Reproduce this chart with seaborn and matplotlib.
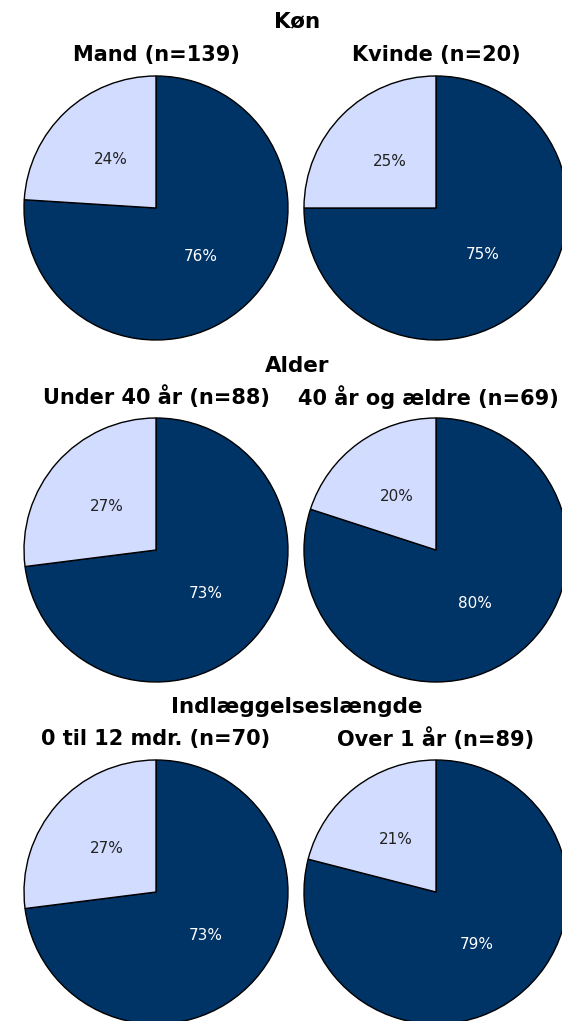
import matplotlib.pyplot as plt
import seaborn as sns

groups = ["Køn", "Alder", "Indlæggelseslængde"]
subtitles = [
    ["Mand (n=139)", "Kvinde (n=20)"],
    ["Under 40 år (n=88)", "40 år og ældre (n=69)"],
    ["0 til 12 mdr. (n=70)", "Over 1 år (n=89)"],
]
dark_pct = [[76, 75], [73, 80], [73, 79]]
light_pct = [[24, 25], [27, 20], [27, 21]]

dark = "#003366"
light = "#D2DCFF"

sns.set_theme(style="white")
plt.rcParams["font.family"] = ["DejaVu Sans"]

W, H = 562, 1021
fig = plt.figure(figsize=(W / 100, H / 100), dpi=100)
fig.patch.set_facecolor("white")

r = 132
pad = 1.02
xs = [156, 436]
ys = [208, 550, 892]
title_y = [21, 366, 707]
sub_y = [55, 397, 739]

for i, g in enumerate(groups):
    fig.text(297 / W, 1 - title_y[i] / H, g, ha="center", va="center",
             fontsize=15.5, fontweight="bold", color="black")
    for j in range(2):
        cx, cy = xs[j], ys[i]
        half = r * pad
        ax = fig.add_axes([(cx - half) / W, 1 - (cy + half) / H, 2 * half / W, 2 * half / H])
        wedges, texts, autotexts = ax.pie(
            [dark_pct[i][j], light_pct[i][j]],
            colors=[dark, light],
            startangle=90,
            counterclock=False,
            autopct="%d%%",
            pctdistance=0.5,
            wedgeprops=dict(edgecolor="black", linewidth=1),
            textprops=dict(fontsize=11),
        )
        autotexts[0].set_color("white")
        autotexts[1].set_color("#222222")
        ax.set_xlim(-pad, pad)
        ax.set_ylim(-pad, pad)
        ax.set_aspect("equal")
        ax.axis("off")
        # keep the long right-hand subtitle inside the figure
        t = fig.text(cx / W, 1 - sub_y[i] / H, subtitles[i][j], ha="center", va="center",
                     fontsize=15, fontweight="bold", color="black")
        if j == 1 and len(subtitles[i][j]) > 18:
            t.set_ha("right")
            t.set_x(559 / W)

fig.savefig("out.png", dpi=100)
